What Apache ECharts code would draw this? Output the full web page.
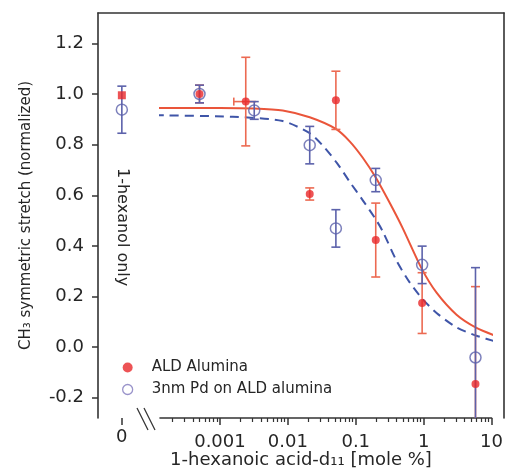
<!DOCTYPE html>
<html><head><meta charset="utf-8">
<script src="https://cdn.jsdelivr.net/npm/echarts@6/dist/echarts.min.js"></script>
<style>html,body{margin:0;padding:0;background:#fff}#c{width:506px;height:475px}</style>
</head><body><div id="c"></div>
<script>
// ---------- data ----------
const yTickValues = [-0.2, 0, 0.2, 0.4, 0.6, 0.8, 1.0, 1.2];
const xTickValues = [0.001, 0.01, 0.1, 1, 10];
const xTickLabels = ['0.001', '0.01', '0.1', '1', '10'];
const xMinorTicks = [2e-4, 3e-4, 4e-4, 5e-4, 6e-4, 7e-4, 8e-4, 9e-4,
  2e-3, 3e-3, 4e-3, 5e-3, 6e-3, 7e-3, 8e-3, 9e-3,
  0.02, 0.03, 0.04, 0.05, 0.06, 0.07, 0.08, 0.09,
  0.2, 0.3, 0.4, 0.5, 0.6, 0.7, 0.8, 0.9,
  2, 3, 4, 5, 6, 7, 8, 9];
const zeroTickValues = [0];
const zeroTickLabels = ['0'];

const aluminaName = 'ALD Alumina';
const aluminaX = [0.0005, 0.0024, 0.021, 0.051, 0.197, 0.95, 5.8];
const aluminaY = [1.00, 0.97, 0.605, 0.975, 0.423, 0.174, -0.146];
const aluminaErr = [0.035, 0.175, 0.024, 0.115, 0.146, 0.12, 0.385];
const aluminaXErrPoint = [0.0016, 0.97, 0.0034]; // [x low, y, x high]
const aluminaZeroY = [0.995];

const pdName = '3nm Pd on ALD alumina';
const pdX = [0.0005, 0.0032, 0.021, 0.051, 0.197, 0.95, 5.8];
const pdY = [1.00, 0.935, 0.798, 0.469, 0.66, 0.325, -0.041];
const pdErr = [0.035, 0.035, 0.074, 0.074, 0.046, 0.074, 0.355];
const pdZeroY = [0.938];
const pdZeroErr = [0.093];

const aluminaFitX = [1.1e-4, 0.001, 0.0032, 0.0084, 0.021, 0.051, 0.082, 0.127, 0.197, 0.316, 0.491, 0.935, 1.55, 3.05, 6.0, 12.2];
const aluminaFitY = [0.945, 0.945, 0.943, 0.935, 0.908, 0.862, 0.812, 0.748, 0.67, 0.57, 0.47, 0.31, 0.215, 0.128, 0.076, 0.042];
const pdFitX = [1.1e-4, 0.00155, 0.0084, 0.021, 0.033, 0.053, 0.082, 0.127, 0.197, 0.249, 0.401, 0.622, 0.935, 1.55, 3.05, 6.0, 12.2];
const pdFitY = [0.916, 0.91, 0.893, 0.845, 0.795, 0.727, 0.652, 0.58, 0.505, 0.458, 0.34, 0.256, 0.194, 0.135, 0.078, 0.045, 0.02];

const yTitle = 'CH\u2083 symmetric stretch (normalized)';
const xTitle = '1-hexanoic acid-d\u2081\u2081 [mole %]';
const noteText = '1-hexanol only';

// ---------- style ----------
const FONT = 'DejaVu Sans';
const TXT = '#262626';
const FRAME = '#333333';
const RED = '#e8282a';
const RED_LINE = '#ea553a';
const RED_ERR = '#ec6a52';
const BLUE = '#5c62ab';
const BLUE_LINE = '#3f55a8';

const zip = (xs, ys) => xs.map((x, i) => [x, ys[i]]);
const errData = (xs, ys, es) => xs.map((x, i) => [x, ys[i], ys[i] - es[i], ys[i] + es[i]]);

function errRender(color, cap, width) {
  return function (params, api) {
    const x = api.value(0), lo = api.value(2), hi = api.value(3);
    const cs = params.coordSys;
    const pLo = api.coord([x, lo]), pHi = api.coord([x, hi]);
    const top = cs.y, bot = cs.y + cs.height;
    const yl = Math.min(bot, Math.max(top, pLo[1]));
    const yh = Math.min(bot, Math.max(top, pHi[1]));
    const st = { stroke: color, lineWidth: width };
    const ch = [{ type: 'line', shape: { x1: pLo[0], y1: yl, x2: pLo[0], y2: yh }, style: st }];
    if (pHi[1] >= top) ch.push({ type: 'line', shape: { x1: pLo[0] - cap, y1: yh, x2: pLo[0] + cap, y2: yh }, style: st });
    if (pLo[1] <= bot) ch.push({ type: 'line', shape: { x1: pLo[0] - cap, y1: yl, x2: pLo[0] + cap, y2: yl }, style: st });
    return { type: 'group', children: ch };
  };
}
function xErrRender(color, cap, width) {
  return function (params, api) {
    const p1 = api.coord([api.value(0), api.value(1)]);
    const p2 = api.coord([api.value(2), api.value(1)]);
    const st = { stroke: color, lineWidth: width };
    return { type: 'group', children: [
      { type: 'line', shape: { x1: p1[0], y1: p1[1], x2: p2[0], y2: p2[1] }, style: st },
      { type: 'line', shape: { x1: p1[0], y1: p1[1] - cap, x2: p1[0], y2: p1[1] + cap }, style: st }
    ] };
  };
}

const YMIN = -0.28, YMAX = 1.32;
const chart = echarts.init(document.getElementById('c'), null, { renderer: 'canvas' });
const labelStyle = { fontFamily: FONT, fontSize: 18, color: TXT };
const frameLine = { show: true, onZero: false, lineStyle: { color: FRAME, width: 1.6 } };

chart.setOption({
  backgroundColor: '#ffffff',
  animation: false,
  textStyle: { fontFamily: FONT },
  grid: [
    { left: 98, width: 62, top: 13, bottom: 57 },
    { left: 160, right: 14, top: 13, bottom: 57 },
    { left: 98, right: 2, top: 13, bottom: 57 }
  ],
  xAxis: [
    { gridIndex: 0, type: 'value', min: -1, max: 1.6, position: 'bottom',
      axisLine: { show: false, onZero: false }, splitLine: { show: false },
      axisTick: { customValues: zeroTickValues, length: 7, lineStyle: { color: FRAME, width: 1.5 } },
      axisLabel: Object.assign({ customValues: zeroTickValues, margin: 10,
        formatter: v => zeroTickLabels[zeroTickValues.indexOf(v)] }, labelStyle) },
    { gridIndex: 1, type: 'log', min: 1.31e-4, max: 10, position: 'bottom',
      axisLine: frameLine, splitLine: { show: false },
      axisTick: { customValues: xTickValues, length: 7, lineStyle: { color: FRAME, width: 1.5 } },
      axisLabel: Object.assign({ customValues: xTickValues, margin: 15,
        formatter: v => { const i = xTickValues.findIndex(t => Math.abs(Math.log10(t) - Math.log10(v)) < 1e-6); return i >= 0 ? xTickLabels[i] : ''; } }, labelStyle) },
    { gridIndex: 1, type: 'log', min: 1.31e-4, max: 10, position: 'bottom',
      axisLine: { show: false, onZero: false }, splitLine: { show: false }, axisLabel: { show: false },
      axisTick: { customValues: xMinorTicks, length: 4, lineStyle: { color: FRAME, width: 1.2 } } },
    { gridIndex: 2, type: 'value', min: 0, max: 1, position: 'top',
      axisLine: frameLine,
      axisTick: { show: false }, axisLabel: { show: false }, splitLine: { show: false } },
    { gridIndex: 2, type: 'value', min: 0, max: 1, position: 'bottom',
      axisLine: { show: false, onZero: false }, axisTick: { show: false }, axisLabel: { show: false }, splitLine: { show: false },
      name: xTitle, nameLocation: 'middle', nameGap: 33,
      nameTextStyle: { fontFamily: FONT, fontSize: 18, color: TXT } }
  ],
  yAxis: [
    { gridIndex: 0, type: 'value', min: YMIN, max: YMAX, position: 'left',
      axisLine: frameLine, splitLine: { show: false },
      axisTick: { customValues: yTickValues, length: 6, lineStyle: { color: FRAME, width: 1.5 } },
      axisLabel: Object.assign({ customValues: yTickValues, margin: 14, formatter: v => v.toFixed(1) }, labelStyle),
      name: yTitle, nameLocation: 'middle', nameGap: 64, nameRotate: 90,
      nameTextStyle: { fontFamily: FONT, fontSize: 15, color: TXT } },
    { gridIndex: 1, type: 'value', min: YMIN, max: YMAX, show: false },
    { gridIndex: 2, type: 'value', min: 0, max: 1, position: 'right',
      axisLine: frameLine,
      axisTick: { show: false }, axisLabel: { show: false }, splitLine: { show: false } }
  ],
  legend: {
    orient: 'vertical', left: 117, top: 354, itemWidth: 38, itemHeight: 10, itemGap: 5,
    selectedMode: false,
    textStyle: { fontFamily: FONT, fontSize: 15, color: TXT, lineHeight: 17 },
    data: [
      { name: aluminaName, icon: 'circle', itemStyle: { color: RED, borderWidth: 0 } },
      { name: pdName, icon: 'circle', itemStyle: { color: 'rgba(0,0,0,0)', borderColor: '#8078bd', borderWidth: 1.3 } }
    ]
  },
  series: [
    // zero-concentration points (left panel)
    { type: 'custom', xAxisIndex: 0, yAxisIndex: 0, renderItem: errRender(BLUE, 4.5, 1.6),
      data: errData(zeroTickValues, pdZeroY, pdZeroErr), z: 3 },
    { type: 'scatter', name: pdName + ' (0)', xAxisIndex: 0, yAxisIndex: 0, symbol: 'circle', symbolSize: 11,
      itemStyle: { color: 'rgba(0,0,0,0)', borderColor: BLUE, borderWidth: 1.5 }, data: zip(zeroTickValues, pdZeroY), z: 4 },
    { type: 'scatter', name: aluminaName + ' (0)', xAxisIndex: 0, yAxisIndex: 0, symbol: 'rect', symbolSize: 8,
      itemStyle: { color: RED }, data: zip(zeroTickValues, aluminaZeroY), z: 5 },
    // fits
    { type: 'line', xAxisIndex: 1, yAxisIndex: 1, data: zip(aluminaFitX, aluminaFitY), smooth: 0.25,
      showSymbol: false, clip: false, lineStyle: { color: RED_LINE, width: 2 }, z: 2 },
    { type: 'line', xAxisIndex: 1, yAxisIndex: 1, data: zip(pdFitX, pdFitY), smooth: 0.25,
      showSymbol: false, clip: false, lineStyle: { color: BLUE_LINE, width: 2, type: [9, 6] }, z: 2 },
    // error bars
    { type: 'custom', xAxisIndex: 1, yAxisIndex: 1, renderItem: errRender(RED_ERR, 4.5, 1.6),
      data: errData(aluminaX, aluminaY, aluminaErr), z: 3 },
    { type: 'custom', xAxisIndex: 1, yAxisIndex: 1, renderItem: xErrRender(RED_ERR, 4, 1.6),
      data: [aluminaXErrPoint], z: 3 },
    { type: 'custom', xAxisIndex: 1, yAxisIndex: 1, renderItem: errRender(BLUE, 4.5, 1.6),
      data: errData(pdX, pdY, pdErr), z: 3 },
    // points
    { type: 'scatter', name: aluminaName, xAxisIndex: 1, yAxisIndex: 1, symbol: 'circle', symbolSize: 8,
      itemStyle: { color: RED }, data: zip(aluminaX, aluminaY), z: 5 },
    { type: 'scatter', name: pdName, xAxisIndex: 1, yAxisIndex: 1, symbol: 'circle', symbolSize: 11,
      itemStyle: { color: 'rgba(0,0,0,0)', borderColor: BLUE, borderWidth: 1.5 }, data: zip(pdX, pdY), z: 4 }
  ]
});

// annotations positioned through the chart's own coordinate conversion
const notePos = chart.convertToPixel({ xAxisIndex: 0, yAxisIndex: 0 }, [0, 0.474]);
const axisStart = chart.convertToPixel({ xAxisIndex: 1, yAxisIndex: 1 }, [1.31e-4, YMIN]);
const bx = axisStart[0], by = axisStart[1];
chart.setOption({
  graphic: [
    { type: 'text', x: notePos[0], y: notePos[1], rotation: -Math.PI / 2,
      style: { text: noteText, fontFamily: FONT, fontSize: 16, fill: TXT, align: 'center', verticalAlign: 'middle' } },
    { type: 'line', shape: { x1: bx - 23, y1: by - 10, x2: bx - 12, y2: by + 12 }, style: { stroke: FRAME, lineWidth: 1.3 } },
    { type: 'line', shape: { x1: bx - 16, y1: by - 10, x2: bx - 5, y2: by + 12 }, style: { stroke: FRAME, lineWidth: 1.3 } }
  ]
});
</script>
</body></html>
